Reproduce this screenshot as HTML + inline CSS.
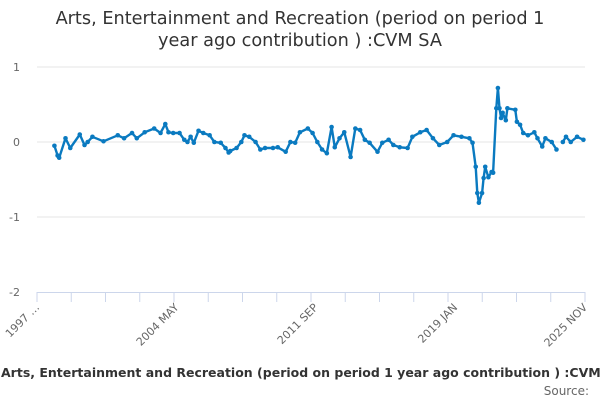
<!DOCTYPE html>
<html><head><meta charset="utf-8">
<style>
body{margin:0;background:#fff;font-family:"DejaVu Sans",sans-serif;}
#wrap{position:relative;width:600px;height:400px;overflow:hidden;}
</style></head>
<body>
<div id="wrap">
<svg id="chart" width="600" height="400" font-family="DejaVu Sans, sans-serif"></svg>
</div>
<script>
const months = [11,13,14,18,21,27,30,32,35,42,51,55,60,63,68,74,78,81,83,86,90,93,95,97,99,102,105,109,112,116,119,121,122,126,129,131,134,138,141,144,149,152,157,160,163,166,171,174,177,180,183,186,188,191,194,198,201,204,207,210,215,218,222,225,229,234,237,242,246,250,254,259,263,268,273,275,277,278,279,281,282,283,285,287,288,290,291,292,293,294,296,297,302,303,305,307,310,314,316,319,321,325,328,330,332,334,337,341,345];
const values = [-0.05,-0.18,-0.21,0.05,-0.08,0.1,-0.04,0.0,0.07,0.01,0.09,0.05,0.12,0.05,0.13,0.18,0.12,0.24,0.13,0.12,0.12,0.03,0.0,0.07,-0.01,0.15,0.12,0.09,0.0,-0.01,-0.08,-0.14,-0.12,-0.08,0.0,0.09,0.07,0.0,-0.1,-0.08,-0.08,-0.07,-0.13,0.0,-0.01,0.13,0.18,0.12,0.0,-0.1,-0.15,0.2,-0.07,0.05,0.13,-0.2,0.18,0.16,0.03,-0.01,-0.13,-0.01,0.03,-0.04,-0.07,-0.08,0.07,0.13,0.16,0.05,-0.04,0.0,0.09,0.07,0.05,-0.01,-0.33,-0.68,-0.81,-0.68,-0.48,-0.33,-0.47,-0.4,-0.41,0.45,0.72,0.45,0.32,0.39,0.29,0.45,0.43,0.27,0.23,0.12,0.09,0.13,0.05,-0.06,0.05,0.0,-0.1,null,0.0,0.07,0.0,0.07,0.03];
const yTicks = [1,0,-1,-2];
const xLabels = [[0,"1997 …"],[88,"2004 MAY"],[176,"2011 SEP"],[264,"2019 JAN"],[346,"2025 NOV"]];
const totalMonths = 346;

const NS="http://www.w3.org/2000/svg";
const svg=document.getElementById('chart');
const L=37,R=585,T=67,B=292;
const xS=m=>L+m*(R-L)/totalMonths;
const yS=v=>T+(1-v)*(B-T)/3;
function mk(t,a,txt){const e=document.createElementNS(NS,t);for(const k in a)e.setAttribute(k,a[k]);if(txt!=null)e.textContent=txt;svg.appendChild(e);return e;}

let e=mk('text',{x:300,y:24,'text-anchor':'middle','font-size':17.7,fill:'#333'},'Arts, Entertainment and Recreation (period on period 1');


e=mk('text',{x:300,y:46,'text-anchor':'middle','font-size':17.7,fill:'#333'},'year ago contribution ) :CVM SA');



yTicks.forEach(v=>{
  if(v>-2){const g=mk('line',{x1:L,x2:R,y1:yS(v),y2:yS(v),stroke:'#e6e6e6','stroke-width':1});
  
  }
  const t=mk('text',{x:20,y:yS(v)+4,'text-anchor':'end','font-size':11,fill:'#666'},String(v));
  
  
});
e=mk('line',{x1:L,x2:R,y1:B+0.5,y2:B+0.5,stroke:'#ccd6eb','stroke-width':1});


for(let i=0;i<=16;i++){
  const x=L+i*(R-L)/16;
  const tk=mk('line',{x1:x,x2:x,y1:B,y2:B+10,stroke:'#ccd6eb','stroke-width':1});
  
  
}
xLabels.forEach(([m,s])=>{
  const x=xS(m);
  const t=mk('text',{x:x+3,y:B+16,'text-anchor':'end','font-size':11,fill:'#666',transform:`rotate(-45 ${x+3} ${B+16})`},s);
  
  
});

let d='',pen=false;
months.forEach((m,i)=>{
  const v=values[i];
  if(v==null){pen=false;return;}
  d+=(pen?'L':'M')+xS(m).toFixed(1)+' '+yS(v).toFixed(1);pen=true;
});
e=mk('path',{d:d,fill:'none',stroke:'#0a7ac0','stroke-width':2.4,'stroke-linejoin':'round'});


months.forEach((m,i)=>{
  const v=values[i];if(v==null)return;
  const c=mk('circle',{cx:xS(m),cy:yS(v),r:2.3,fill:'#0a7ac0'});
  
  
});

e=mk('text',{x:1,y:377,'font-size':12.5,'font-weight':'bold',fill:'#333'},'Arts, Entertainment and Recreation (period on period 1 year ago contribution ) :CVM');


e=mk('text',{x:589,y:395,'text-anchor':'end','font-size':12,fill:'#666'},'Source:');


</script>
</body></html>
